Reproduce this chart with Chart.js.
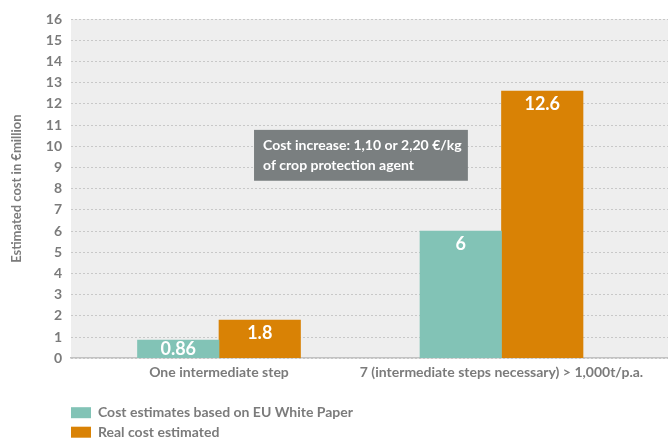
<!DOCTYPE html>
<html>
<head>
<meta charset="utf-8">
<script src="https://cdn.jsdelivr.net/npm/chart.js@4/dist/chart.umd.min.js"></script>
<style>
  html, body { margin: 0; padding: 0; background: #ffffff; }
  #wrap { position: relative; width: 668px; height: 438px; }
</style>
</head>
<body>
<div id="wrap"><canvas id="c" width="668" height="438"></canvas></div>
<script>
// ---- data ----
const categories = ['One intermediate step', '7 (intermediate steps necessary) > 1,000t/p.a.'];
const categoryPositions = [1, 2];
const whitePaperValues = [0.86, 6];
const realCostValues = [1.8, 12.6];
const seriesLabels = ['Cost estimates based on EU White Paper', 'Real cost estimated'];
const yTicks = { min: 0, max: 16, step: 1 };
const yTitle = 'Estimated cost in €million';
const noteLines = ['Cost increase: 1,10 or 2,20 €/kg', 'of crop protection agent'];

// ---- style ----
const TEAL = '#82c3b6';
const ORANGE = '#d98205';
const GREY_TEXT = '#7b7b7b';
const PLOT_BG = '#eeeeee';
const FONT = 'Lato, "Open Sans", sans-serif';

const bgPlugin = {
  id: 'plotBg',
  beforeDraw(chart) {
    const { ctx, chartArea: a } = chart;
    ctx.save();
    ctx.fillStyle = PLOT_BG;
    ctx.fillRect(a.left, a.top, a.right - a.left, a.bottom - a.top);
    ctx.restore();
  }
};

const valueLabels = {
  id: 'valueLabels',
  afterDatasetsDraw(chart) {
    const { ctx } = chart;
    ctx.save();
    ctx.fillStyle = '#ffffff';
    ctx.font = 'bold 18px ' + FONT;
    ctx.textAlign = 'center';
    ctx.textBaseline = 'middle';
    chart.data.datasets.forEach((ds, di) => {
      const meta = chart.getDatasetMeta(di);
      meta.data.forEach((bar, i) => {
        const y = Math.min(bar.y + 13, (bar.y + bar.base) / 2);
        ctx.fillText(String(ds.data[i].y), bar.x, y);
      });
    });
    ctx.restore();
  }
};

// note box anchored in data coordinates
const noteBox = { x0: 1.124, x1: 1.881, y0: 10.77, y1: 8.37 };
const notePlugin = {
  id: 'note',
  afterDatasetsDraw(chart) {
    const { ctx, scales: { x, y } } = chart;
    const L = x.getPixelForValue(noteBox.x0), R = x.getPixelForValue(noteBox.x1);
    const T = y.getPixelForValue(noteBox.y0), B = y.getPixelForValue(noteBox.y1);
    ctx.save();
    ctx.fillStyle = '#7a7f80';
    ctx.fillRect(L, T, R - L, B - T);
    ctx.fillStyle = '#ffffff';
    ctx.font = 'bold 14px ' + FONT;
    ctx.textAlign = 'left';
    ctx.textBaseline = 'middle';
    noteLines.forEach((t, i) => ctx.fillText(t, L + 9, T + 16 + i * 20));
    ctx.restore();
  }
};

const legendPlugin = {
  id: 'legendRows',
  afterDraw(chart) {
    const { ctx, chartArea: a } = chart;
    ctx.save();
    ctx.font = 'bold 14px ' + FONT;
    ctx.textBaseline = 'middle';
    ctx.textAlign = 'left';
    chart.data.datasets.forEach((ds, i) => {
      const top = a.bottom + 49 + i * 19.5;
      ctx.fillStyle = ds.backgroundColor;
      ctx.fillRect(a.left, top, 20, 11);
      ctx.fillStyle = GREY_TEXT;
      ctx.fillText(ds.label, a.left + 27, top + 5.5);
    });
    ctx.restore();
  }
};

const toPoints = vals => vals.map((v, i) => ({ x: categoryPositions[i], y: v }));

new Chart(document.getElementById('c'), {
  type: 'bar',
  data: {
    datasets: [
      { label: seriesLabels[0], data: toPoints(whitePaperValues), backgroundColor: TEAL, barThickness: 81.5 },
      { label: seriesLabels[1], data: toPoints(realCostValues), backgroundColor: ORANGE, barThickness: 81.5 }
    ]
  },
  plugins: [bgPlugin, valueLabels, notePlugin, legendPlugin],
  options: {
    responsive: false,
    animation: false,
    devicePixelRatio: 1,
    layout: { padding: { top: 19, right: 0, bottom: 51, left: 0 } },
    plugins: { legend: { display: false }, tooltip: { enabled: false } },
    scales: {
      x: {
        type: 'linear',
        offset: false,
        min: 0.4761,
        max: 2.5894,
        afterBuildTicks(scale) { scale.ticks = categoryPositions.map(v => ({ value: v })); },
        ticks: {
          autoSkip: false,
          maxRotation: 0,
          padding: 6,
          color: GREY_TEXT,
          font: { family: FONT, size: 14, weight: 'bold' },
          callback: (v, i) => categories[i]
        },
        grid: { display: false, drawTicks: false, offset: false },
        border: { display: true, color: '#c2c2c2', width: 1.5 }
      },
      y: {
        min: yTicks.min,
        max: yTicks.max,
        afterFit(scale) { scale.width = 71; },
        ticks: {
          stepSize: yTicks.step,
          padding: 9,
          color: GREY_TEXT,
          font: { family: FONT, size: 14, weight: 'bold' }
        },
        grid: { color: '#c8c8c8', drawTicks: false, lineWidth: 1 },
        border: { display: false, dash: [2, 2] },
        title: {
          display: true,
          text: yTitle,
          color: GREY_TEXT,
          padding: { top: 9, bottom: 0 },
          font: { family: FONT, size: 13, weight: 'bold' }
        }
      }
    }
  }
});
</script>
</body>
</html>
